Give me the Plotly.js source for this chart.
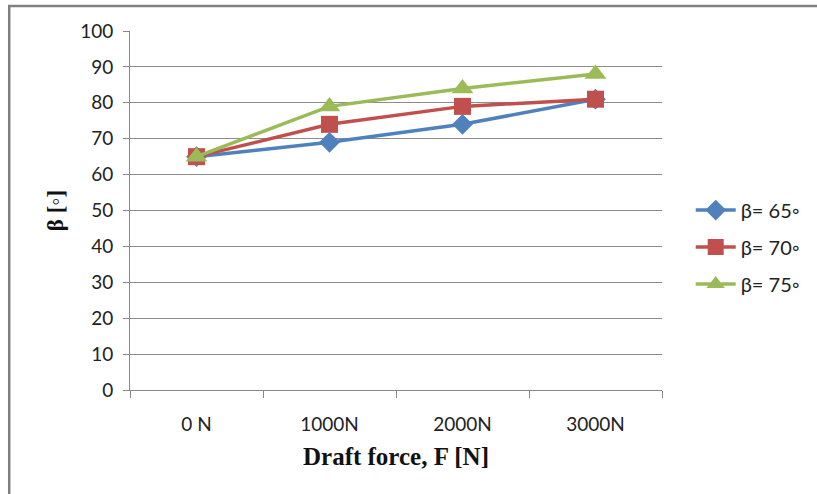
<!DOCTYPE html>
<html><head><meta charset="utf-8">
<script src="https://cdn.plot.ly/plotly-3.0.1.min.js"></script>
<style>body{margin:0;background:#fff}#c{width:817px;height:494px}</style>
</head><body><div id="c"></div>
<script>
const categories = ["0 N", "1000N", "2000N", "3000N"];
const seriesNames = ["β= 65◦", "β= 70◦", "β= 75◦"];
const beta65 = [65, 69, 74, 81];
const beta70 = [65, 74, 79, 81];
const beta75 = [65, 79, 84, 88];
const yTicks = [0, 10, 20, 30, 40, 50, 60, 70, 80, 90, 100];

const colors = ["#4F81BD", "#C0504D", "#9BBB59"];
const symbols = ["diamond", "square", "triangle-up"];
const sizes = [16, 17, 19];
const data = [beta65, beta70, beta75].map((v, i) => ({
  x: categories, y: v, name: seriesNames[i], type: "scatter", mode: "lines+markers",
  legendgroup: "g" + i,
  line: {color: colors[i], width: 3.5},
  marker: {symbol: symbols[i], size: sizes[i], color: colors[i]}
}));

const serif = "'Liberation Serif', 'Times New Roman', serif";
const layout = {
  width: 817, height: 494,
  margin: {l: 130, r: 154, t: 31, b: 104},
  paper_bgcolor: "#fff", plot_bgcolor: "#fff",
  font: {family: "Lato, 'Open Sans', sans-serif", color: "#222"},
  xaxis: {
    type: "category", range: [-0.5, 3.5], tickson: "boundaries",
    ticks: "outside", ticklen: 7, tickcolor: "#888", tickwidth: 1,
    showline: true, linecolor: "#888", linewidth: 1, showgrid: false,
    tickfont: {size: 19, color: "#222"}, ticklabelstandoff: 17,
    title: {text: "Draft force, F [N]", font: {family: serif, size: 25, color: "#111", weight: "bold"}, standoff: 13}
  },
  yaxis: {
    range: [0, 100], tickvals: yTicks, ticks: "outside", ticklen: 6, tickcolor: "#888",
    showline: true, linecolor: "#888", linewidth: 1, gridcolor: "#8c8c8c", gridwidth: 1,
    zeroline: false, tickfont: {size: 19, color: "#222"}, ticklabelstandoff: 6,
    title: {text: "β [◦]", font: {family: serif, size: 23, color: "#111", weight: "bold"}, standoff: 10}
  },
  legend: {x: 1.052, xanchor: "left", y: 0.398, yanchor: "middle", font: {size: 20, color: "#222"}, tracegroupgap: 8, itemwidth: 40, bgcolor: "rgba(0,0,0,0)"},
  showlegend: true,
  shapes: [{type: "rect", xref: "paper", yref: "paper", x0: (9 - 130) / 533, x1: (840 - 130) / 533, y0: -0.4, y1: 1 + 25 / 359,
    line: {color: "#808080", width: 2.5}, fillcolor: "rgba(0,0,0,0)", layer: "below"}]
};
Plotly.newPlot("c", data, layout, {displayModeBar: false, staticPlot: true});
</script></body></html>
